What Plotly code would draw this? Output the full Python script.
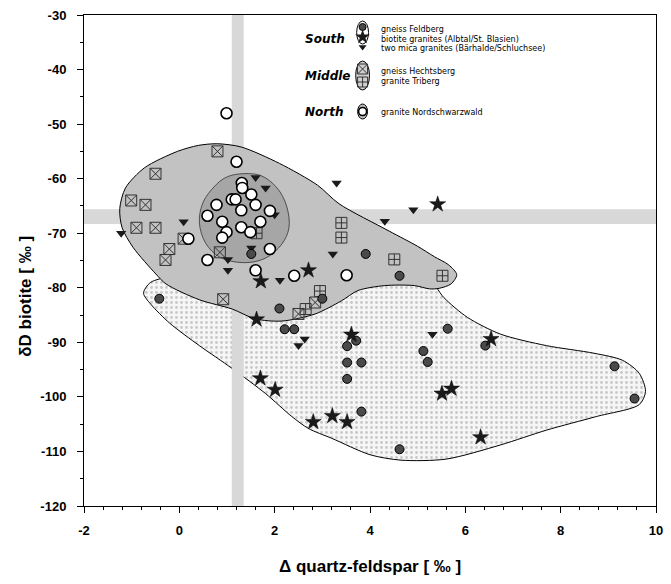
import plotly.graph_objects as go

# ---------------- data ----------------
feldberg_x = [1.51, 3.91, 4.62, 3.00, 2.10, 2.21, 2.41, 3.71, 3.52, 3.52, 3.82, 3.52, 3.82, 5.63, 5.12, 5.21, 6.42, 4.62, 9.13, 9.55, -0.42]
feldberg_y = [-73.8, -73.8, -77.8, -82.0, -83.8, -87.6, -87.6, -89.7, -90.7, -93.7, -93.7, -96.7, -102.7, -87.5, -91.6, -93.6, -90.6, -109.6, -94.4, -100.3, -82.0]

biotite_x = [2.71, 1.71, 1.62, 3.61, 1.70, 2.01, 2.81, 3.21, 3.52, 5.42, 6.54, 5.51, 5.71, 6.32]
biotite_y = [-76.8, -78.8, -85.8, -88.6, -96.6, -98.7, -104.6, -103.5, -104.6, -64.7, -89.4, -99.4, -98.5, -107.4]

twomica_x = [-1.22, 0.09, 1.60, 1.81, 3.30, 2.00, 1.51, 1.02, 1.02, 2.11, 3.22, 4.31, 4.91, 2.63, 2.50, 5.31]
twomica_y = [-70.0, -67.9, -59.8, -61.7, -60.8, -66.6, -72.7, -74.8, -76.8, -78.6, -73.8, -67.8, -65.7, -89.4, -90.6, -88.5]

hechtsberg_x = [0.80, -0.50, -1.01, -0.71, -0.90, -0.50, 0.09, -0.21, -0.29, 0.85, 0.92, 2.85, 2.50]
hechtsberg_y = [-55.0, -59.1, -64.0, -64.8, -69.0, -69.0, -71.0, -72.9, -74.9, -73.5, -82.1, -82.7, -84.8]

triberg_x = [3.40, 3.40, 4.51, 5.52, 2.95, 2.65, 1.62]
triberg_y = [-68.1, -70.8, -74.8, -77.8, -80.6, -83.9, -70.0]

nord_x = [0.99, 1.20, 1.31, 1.32, 1.51, 1.10, 1.18, 1.60, 0.78, 0.59, 1.30, 1.90, 1.70, 0.90, 1.30, 1.49, 0.99, 0.90, 1.90, 0.19, 0.59, 1.60, 2.41, 3.51]
nord_y = [-48.0, -56.9, -60.8, -61.7, -62.9, -63.8, -63.8, -64.8, -64.8, -66.8, -65.8, -65.9, -67.9, -67.9, -68.9, -69.8, -69.8, -70.8, -72.9, -71.0, -74.9, -76.8, -77.8, -77.7]

# field outlines
south_field_x = [-0.6, 0.5, 2.0, 4.0, 5.2, 5.55, 6.04, 6.74, 7.7, 8.7, 9.3, 9.65, 9.78, 9.65, 8.75, 7.7, 6.74, 5.6, 4.65, 4.0, 3.2, 2.71, 2.36, 1.81, 1.11, 0.42, -0.2, -0.6, -0.75, -0.6]
south_field_y = [-79.0, -77.0, -76.0, -76.0, -78.0, -81.8, -85.4, -88.5, -90.6, -92.0, -93.3, -95.7, -99.0, -101.4, -103.6, -106.1, -108.8, -111.4, -111.6, -110.6, -107.6, -105.8, -103.6, -99.4, -94.8, -90.6, -86.5, -83.0, -81.0, -79.0]

middle_field_x = [0.8, 1.3, 2.1, 2.9, 3.35, 4.4, 5.0, 5.35, 5.65, 5.82, 5.7, 5.45, 5.25, 4.93, 4.31, 3.75, 3.4, 2.85, 2.15, 1.59, 1.11, 0.42, -0.28, -0.49, -0.97, -1.2, -1.25, -1.13, -0.73, -0.04, 0.4, 0.8]
middle_field_y = [-53.6, -54.2, -57.2, -61.2, -64.6, -69.6, -72.4, -74.3, -75.8, -77.6, -79.3, -80.1, -80.2, -79.6, -79.6, -80.5, -82.4, -84.8, -86.1, -85.7, -83.9, -82.2, -79.3, -77.5, -72.6, -69.0, -65.5, -61.7, -58.0, -55.0, -53.9, -53.6]

north_field_x = [1.2, 1.7, 2.05, 2.25, 2.3, 2.15, 1.8, 1.35, 0.85, 0.55, 0.42, 0.5, 0.75, 0.95, 1.2]
north_field_y = [-59.2, -59.4, -61.7, -65.0, -69.0, -72.0, -74.6, -75.4, -74.4, -71.8, -68.0, -64.3, -61.3, -59.9, -59.2]

# reference bands
band_x = [1.1, 1.35]
band_y = [-68.3, -65.6]

x_tickvals = [-2, 0, 2, 4, 6, 8, 10]
x_ticktext = ["-2", "0", "2", "4", "6", "8", "10"]
y_tickvals = [-30, -40, -50, -60, -70, -80, -90, -100, -110, -120]
y_ticktext = ["-30", "-40", "-50", "-60", "-70", "-80", "-90", "-100", "-110", "-120"]

# ---------------- layout geometry ----------------
W, H = 671, 584
L, R, T, B = 84, 8, 15, 78
XR = [-2, 10]
YR = [-120, -30]
FONT = "Liberation Sans, Arial, sans-serif"
LFONT = "DejaVu Sans, sans-serif"


def px2x(px):
    return XR[0] + (px - L) / (W - L - R) * (XR[1] - XR[0])


def py2y(py):
    return YR[1] - (py - T) / (H - T - B) * (YR[1] - YR[0])


def pxp(px):
    return (px - L) / (W - L - R)


def pyp(py):
    return 1 - (py - T) / (H - T - B)


fig = go.Figure()

# light southern field
fig.add_trace(go.Scatter(x=south_field_x, y=south_field_y, mode="lines", fill="toself",
                         fillcolor="#f1f1f1",
                         fillpattern=dict(shape=".", fgcolor="#9a9a9a", bgcolor="#f6f6f6", size=5, solidity=0.25),
                         line=dict(color="black", width=1, shape="spline", smoothing=0.8),
                         hoverinfo="skip", showlegend=False))
# bands
fig.add_trace(go.Scatter(x=[band_x[0], band_x[1], band_x[1], band_x[0], band_x[0]],
                         y=[YR[0], YR[0], YR[1], YR[1], YR[0]], mode="none", fill="toself",
                         fillcolor="#d8d8d8", hoverinfo="skip", showlegend=False))
fig.add_trace(go.Scatter(x=[XR[0], XR[1], XR[1], XR[0], XR[0]],
                         y=[band_y[0], band_y[0], band_y[1], band_y[1], band_y[0]], mode="none", fill="toself",
                         fillcolor="#d8d8d8", hoverinfo="skip", showlegend=False))
# middle field
fig.add_trace(go.Scatter(x=middle_field_x, y=middle_field_y, mode="lines", fill="toself",
                         fillcolor="#c2c2c2", line=dict(color="black", width=1, shape="spline", smoothing=0.8),
                         hoverinfo="skip", showlegend=False))
# north field
fig.add_trace(go.Scatter(x=north_field_x, y=north_field_y, mode="lines", fill="toself",
                         fillcolor="#a6a6a6", line=dict(color="#333", width=0.8, shape="spline", smoothing=1.0),
                         hoverinfo="skip", showlegend=False))

# data points
fig.add_trace(go.Scatter(x=hechtsberg_x, y=hechtsberg_y, mode="markers", name="gneiss Hechtsberg",
                         marker=dict(symbol="square-x-open", size=11, color="#333", line=dict(width=1))))
fig.add_trace(go.Scatter(x=triberg_x, y=triberg_y, mode="markers", name="granite Triberg",
                         marker=dict(symbol="square-cross-open", size=11, color="#333", line=dict(width=1))))
fig.add_trace(go.Scatter(x=twomica_x, y=twomica_y, mode="markers", name="two mica granites",
                         marker=dict(symbol="triangle-down", size=9, color="#1a1a1a", line=dict(width=0))))
fig.add_trace(go.Scatter(x=feldberg_x, y=feldberg_y, mode="markers", name="gneiss Feldberg",
                         marker=dict(symbol="circle", size=9, color="#4a4a4a", line=dict(color="black", width=1))))
fig.add_trace(go.Scatter(x=biotite_x, y=biotite_y, mode="markers", name="biotite granites",
                         marker=dict(symbol="star", size=12, color="#1a1a1a", line=dict(color="black", width=0.5))))
fig.add_trace(go.Scatter(x=nord_x, y=nord_y, mode="markers", name="granite Nordschwarzwald",
                         marker=dict(symbol="circle", size=11, color="white", line=dict(color="black", width=1.6))))

# ---------------- legend (drawn) ----------------
leg_sym_px = 366
leg_txt_px = 384
fig.add_shape(type="circle", xref="x", yref="y", x0=px2x(360), x1=px2x(372), y0=py2y(21), y1=py2y(44),
              line=dict(color="black", width=1), fillcolor="white", layer="below")
fig.add_shape(type="circle", xref="x", yref="y", x0=px2x(359), x1=px2x(373), y0=py2y(61), y1=py2y(90),
              line=dict(color="black", width=1), fillcolor="#d0d0d0", layer="below")
fig.add_shape(type="circle", xref="x", yref="y", x0=px2x(361), x1=px2x(371), y0=py2y(104), y1=py2y(119),
              line=dict(color="black", width=1), fillcolor="#bbbbbb", layer="below")
fig.add_trace(go.Scatter(x=[px2x(leg_sym_px)], y=[py2y(27)], mode="markers", showlegend=False, hoverinfo="skip",
                         marker=dict(symbol="circle", size=7, color="#4a4a4a", line=dict(color="black", width=1))))
fig.add_trace(go.Scatter(x=[px2x(leg_sym_px)], y=[py2y(37)], mode="markers", showlegend=False, hoverinfo="skip",
                         marker=dict(symbol="star", size=11, color="#1a1a1a")))
fig.add_trace(go.Scatter(x=[px2x(leg_sym_px)], y=[py2y(47)], mode="markers", showlegend=False, hoverinfo="skip",
                         marker=dict(symbol="triangle-down", size=7, color="#1a1a1a")))
fig.add_trace(go.Scatter(x=[px2x(leg_sym_px)], y=[py2y(69)], mode="markers", showlegend=False, hoverinfo="skip",
                         marker=dict(symbol="square-x-open", size=10, color="#333")))
fig.add_trace(go.Scatter(x=[px2x(leg_sym_px)], y=[py2y(82)], mode="markers", showlegend=False, hoverinfo="skip",
                         marker=dict(symbol="square-cross-open", size=10, color="#333")))
fig.add_trace(go.Scatter(x=[px2x(leg_sym_px)], y=[py2y(111.5)], mode="markers", showlegend=False, hoverinfo="skip",
                         marker=dict(symbol="circle", size=8, color="white", line=dict(color="black", width=1.6))))

ann = []
def group_label(text, py):
    ann.append(dict(x=pxp(306), y=pyp(py), xref="paper", yref="paper", xanchor="left", yanchor="middle",
                    text="<b><i>" + text + "</i></b>", showarrow=False,
                    font=dict(family=LFONT, size=12, color="black")))

def item_label(text, py):
    ann.append(dict(x=pxp(leg_txt_px), y=pyp(py), xref="paper", yref="paper", xanchor="left", yanchor="middle",
                    text=text, showarrow=False, borderpad=0,
                    font=dict(family=LFONT, size=8, color="black")))

group_label("South", 39)
group_label("Middle", 76)
group_label("North", 112)
item_label("gneiss Feldberg", 29.5)
item_label("biotite granites (Albtal/St. Blasien)", 39)
item_label("two mica granites (Bärhalde/Schluchsee)", 48.5)
item_label("gneiss Hechtsberg", 71)
item_label("granite Triberg", 81)
item_label("granite Nordschwarzwald", 112)

# axis titles
ann.append(dict(x=pxp(24), y=pyp(296), xref="paper", yref="paper", xanchor="center", yanchor="middle",
                text="<b>δD biotite [ ‰ ]</b>", textangle=-90, showarrow=False,
                font=dict(family=FONT, size=17, color="black")))
ann.append(dict(x=0.5, y=pyp(566), xref="paper", yref="paper", xanchor="center", yanchor="middle",
                text="<b>Δ quartz-feldspar [ ‰ ]</b>", showarrow=False,
                font=dict(family=FONT, size=17, color="black")))

fig.update_layout(
    width=W, height=H,
    margin=dict(l=L, r=R, t=T, b=B),
    paper_bgcolor="white", plot_bgcolor="white",
    showlegend=False,
    annotations=ann,
    font=dict(family=FONT, color="black"),
)
fig.update_xaxes(range=XR, tickvals=x_tickvals, ticktext=x_ticktext, ticks="outside", ticklen=6,
                 tickcolor="black", showline=True, linecolor="black", linewidth=1, mirror=True,
                 showgrid=False, zeroline=False, ticklabelstandoff=6,
                 tickfont=dict(family=FONT, size=13, color="black", weight="bold"),
                 minor=dict(dtick=0.4, ticks="outside", ticklen=3, tickcolor="black", showgrid=False))
fig.update_yaxes(range=YR, tickvals=y_tickvals, ticktext=y_ticktext, ticks="outside", ticklen=6,
                 tickcolor="black", showline=True, linecolor="black", linewidth=1, mirror=True,
                 showgrid=False, zeroline=False, ticklabelstandoff=8,
                 tickfont=dict(family=FONT, size=13, color="black", weight="bold"),
                 minor=dict(dtick=5, ticks="outside", ticklen=3, tickcolor="black", showgrid=False))

fig.write_html("out.html", config={"displayModeBar": False},
               post_script="document.body.style.margin='0';document.body.style.padding='0';")
